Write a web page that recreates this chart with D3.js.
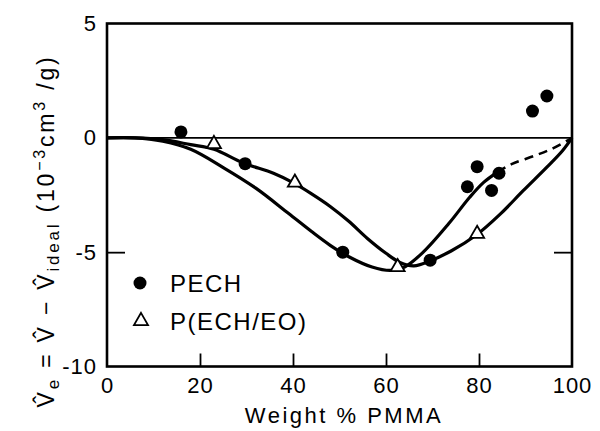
<!DOCTYPE html>
<html>
<head>
<meta charset="utf-8">
<script src="https://cdn.jsdelivr.net/npm/d3@7"></script>
<style>
  html, body { margin: 0; padding: 0; background: #fff; }
  svg { display: block; }
  text { font-family: "Liberation Sans", Arial, sans-serif; fill: #000; }
</style>
</head>
<body>
<svg id="chart" width="600" height="431"></svg>
<script>
// Excess specific volume of PMMA blends
const xTicks = [0, 20, 40, 60, 80, 100];
const yTicks = [-10, -5, 0, 5];
const innerXTicks = [20, 40, 60, 80];

// measured points: [weight % PMMA, Ve]
const pechPoints = [[15.9, 0.26], [29.7, -1.13], [50.7, -5.0], [69.5, -5.35],
  [77.5, -2.14], [79.6, -1.26], [82.7, -2.30], [84.3, -1.55], [91.5, 1.17], [94.6, 1.83]];
const echEoPoints = [[23.0, -0.27], [40.4, -1.96], [62.5, -5.65], [79.6, -4.2]];

// fitted curves
const pechCurve = [[0, 0], [6, 0], [12, -0.15], [18, -0.5], [25, -1.3], [32, -2.2],
  [39, -3.3], [44, -4.1], [48, -4.7], [52, -5.2], [57, -5.65], [61, -5.8], [64, -5.65],
  [68, -5.0], [73.5, -3.75], [78, -2.6], [81, -1.95], [84, -1.5]];
const pechCurveDashed = [[84, -1.5], [87, -1.15], [92, -0.78], [96, -0.45], [100, 0]];
const echEoCurve = [[0, 0], [6, 0], [12, -0.08], [18, -0.3], [23, -0.5], [29.3, -1.1],
  [35.8, -1.55], [40, -1.96], [44, -2.45], [48, -3.0], [52, -3.65], [56, -4.4],
  [60, -5.05], [63, -5.45], [66, -5.6], [69.5, -5.38], [74, -4.95], [79.5, -4.24],
  [84.5, -3.35], [89.5, -2.31], [94.6, -1.28], [98, -0.55], [100, 0]];

const svg = d3.select("#chart");
const x = d3.scaleLinear().domain([0, 100]).range([107, 572]);
const y = d3.scaleLinear().domain([-10, 5]).range([366.5, 23.5]);

const line = d3.line().x(d => x(d[0])).y(d => y(d[1])).curve(d3.curveCatmullRom.alpha(0.5));

// frame
svg.append("rect")
  .attr("x", x(0)).attr("y", y(5))
  .attr("width", x(100) - x(0)).attr("height", y(-10) - y(5))
  .attr("fill", "none").attr("stroke", "#000").attr("stroke-width", 2.6);

// zero line
svg.append("line")
  .attr("x1", x(0)).attr("x2", x(100)).attr("y1", y(0)).attr("y2", y(0))
  .attr("stroke", "#000").attr("stroke-width", 1.8);

// inward ticks on bottom axis
const tickAxis = d3.axisBottom(x).tickValues(innerXTicks).tickSize(-13).tickFormat("");
const gTicks = svg.append("g").attr("transform", `translate(0,${y(-10)})`).call(tickAxis);
gTicks.select(".domain").remove();
gTicks.selectAll("line").attr("stroke-width", 1.8);

// inward ticks at -5 on left and right
const leftTicks = d3.axisLeft(y).tickValues([-5]).tickSize(-18).tickFormat("");
const gl = svg.append("g").attr("transform", `translate(${x(0)},0)`).call(leftTicks);
gl.select(".domain").remove();
gl.selectAll("line").attr("stroke-width", 1.8);
const rightTicks = d3.axisRight(y).tickValues([-5]).tickSize(-18).tickFormat("");
const gr = svg.append("g").attr("transform", `translate(${x(100)},0)`).call(rightTicks);
gr.select(".domain").remove();
gr.selectAll("line").attr("stroke-width", 1.8);

// axis labels
const xLab = d3.axisBottom(x).tickValues(xTicks).tickSize(0).tickPadding(11).tickFormat(d => String(d));
const gx = svg.append("g").attr("transform", `translate(0,${y(-10)})`).call(xLab);
gx.select(".domain").remove();
gx.selectAll("text").attr("font-size", 22).attr("letter-spacing", 1)
  .style("font-family", "'Liberation Sans', Arial, sans-serif");

const yLab = d3.axisLeft(y).tickValues(yTicks).tickSize(0).tickPadding(10).tickFormat(d => String(d));
const gy = svg.append("g").attr("transform", `translate(${x(0)},0)`).call(yLab);
gy.select(".domain").remove();
gy.selectAll("text").attr("font-size", 22).attr("letter-spacing", 1)
  .style("font-family", "'Liberation Sans', Arial, sans-serif");

// curves
svg.append("path").attr("d", line(pechCurve))
  .attr("fill", "none").attr("stroke", "#000").attr("stroke-width", 3.2);
svg.append("path").attr("d", line(pechCurveDashed))
  .attr("fill", "none").attr("stroke", "#000").attr("stroke-width", 2.6)
  .attr("stroke-dasharray", "9,6");
svg.append("path").attr("d", line(echEoCurve))
  .attr("fill", "none").attr("stroke", "#000").attr("stroke-width", 3.2);

// markers
const tri = d3.symbol().type(d3.symbolTriangle).size(85);
svg.append("g").selectAll("circle").data(pechPoints).join("circle")
  .attr("cx", d => x(d[0])).attr("cy", d => y(d[1])).attr("r", 6.5).attr("fill", "#000");
svg.append("g").selectAll("path").data(echEoPoints).join("path")
  .attr("d", tri).attr("transform", d => `translate(${x(d[0])},${y(d[1])})`)
  .attr("fill", "#fff").attr("stroke", "#000").attr("stroke-width", 1.8);

// legend
const legend = svg.append("g");
legend.append("circle").attr("cx", 140).attr("cy", 283).attr("r", 6.5).attr("fill", "#000");
legend.append("text").attr("x", 170).attr("y", 292).attr("font-size", 24)
  .attr("letter-spacing", 1.5).text("PECH");
legend.append("path").attr("d", tri).attr("transform", "translate(141,321)")
  .attr("fill", "#fff").attr("stroke", "#000").attr("stroke-width", 1.8);
legend.append("text").attr("x", 170).attr("y", 330).attr("font-size", 24)
  .attr("letter-spacing", 1.5).text("P(ECH/EO)");

// x title
svg.append("text").attr("x", 344).attr("y", 423).attr("text-anchor", "middle")
  .attr("font-size", 22).attr("letter-spacing", 2.5).text("Weight % PMMA");

// y title
const yt = svg.append("text")
  .attr("transform", "translate(54,231) rotate(-90)")
  .attr("text-anchor", "middle").attr("font-size", 23).attr("letter-spacing", 2.8);
yt.append("tspan").text("V\u0302");
yt.append("tspan").attr("font-size", 17).attr("dy", 5).text("e");
yt.append("tspan").attr("dy", -5).text(" = V\u0302 \u2212 V\u0302");
yt.append("tspan").attr("font-size", 17).attr("dy", 5).text("ideal");
yt.append("tspan").attr("dy", -5).text(" (10");
yt.append("tspan").attr("font-size", 16).attr("dy", -9).text("\u22123");
yt.append("tspan").attr("dy", 9).text("cm");
yt.append("tspan").attr("font-size", 16).attr("dy", -9).text("3");
yt.append("tspan").attr("dy", 9).text(" /g)");
</script>
</body>
</html>
